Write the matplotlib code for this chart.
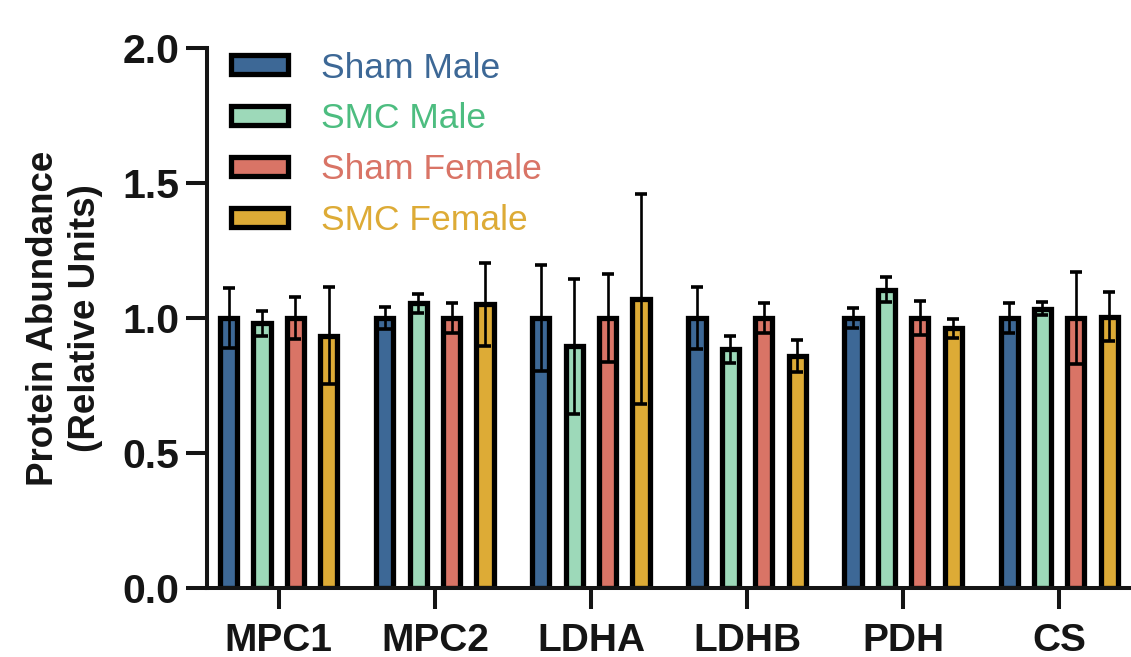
import numpy as np
import matplotlib
matplotlib.use('Agg')
import matplotlib.pyplot as plt
from matplotlib.patches import Patch

plt.rcParams['font.family'] = ['Liberation Sans', 'DejaVu Sans']

proteins = ['MPC1', 'MPC2', 'LDHA', 'LDHB', 'PDH', 'CS']
groups   = ['Sham Male', 'SMC Male', 'Sham Female', 'SMC Female']

# means and SEM
sham_male     = [1.00, 1.00, 1.00, 1.00, 1.00, 1.00]
sham_male_err = [0.11, 0.042, 0.196, 0.115, 0.036, 0.057]
smc_male      = [0.98, 1.055, 0.895, 0.885, 1.105, 1.035]
smc_male_err  = [0.045, 0.035, 0.25, 0.05, 0.047, 0.025]
sham_fem      = [1.00, 1.00, 1.00, 1.00, 1.00, 1.00]
sham_fem_err  = [0.077, 0.054, 0.162, 0.054, 0.062, 0.172]
smc_fem       = [0.935, 1.05, 1.07, 0.86, 0.962, 1.005]
smc_fem_err   = [0.18, 0.155, 0.39, 0.06, 0.035, 0.09]

means  = [sham_male, smc_male, sham_fem, smc_fem]
errs   = [sham_male_err, smc_male_err, sham_fem_err, smc_fem_err]
fills  = ['#3D6896', '#9DD9B9', '#D97466', '#DDAB36']
tcols  = ['#3D6896', '#4DBD80', '#D97466', '#DDAB36']

fig = plt.figure(figsize=(11.31, 6.57), dpi=100)
ax = fig.add_axes([0.183, 0.105, 0.817, 0.822])

x = np.arange(len(proteins))
step = 0.214
width = 0.11
for i in range(4):
    xi = x + (i - 1.5) * step
    ax.bar(xi, means[i], width, color=fills[i], edgecolor='black',
           linewidth=3.8, zorder=2)
    ax.errorbar(xi, means[i], yerr=errs[i], fmt='none', ecolor='black',
                elinewidth=1.9, capsize=4.5, capthick=2.6, zorder=3)

ax.set_xlim(-0.46, 5.46)
ax.set_ylim(0, 2.0)
ax.set_yticks([0, 0.5, 1.0, 1.5, 2.0])
ax.set_yticklabels(['0.0', '0.5', '1.0', '1.5', '2.0'])
ax.set_xticks(x)
ax.set_xticklabels(proteins)

for s in ['top', 'right']:
    ax.spines[s].set_visible(False)
for s in ['left', 'bottom']:
    ax.spines[s].set_linewidth(2.9)
    ax.spines[s].set_color('#151515')

ax.tick_params(axis='both', length=15, width=2.9, color='#151515',
               labelsize=29.5, pad=5)
ax.tick_params(axis='x', pad=10)
for lab in ax.get_xticklabels():
    lab.set_fontweight('bold')
    lab.set_color('#151515')
    lab.set_fontsize(28)
for lab in ax.get_yticklabels():
    lab.set_fontweight('bold')
    lab.set_color('#151515')

ax.set_ylabel('Protein Abundance\n(Relative Units)', fontsize=26.5,
              fontweight='bold', color='#151515', linespacing=1.28)
ax.yaxis.set_label_coords(-0.112, 0.5)

handles = [Patch(facecolor=fills[i], edgecolor='black', linewidth=3.8)
           for i in range(4)]
leg = fig.legend(handles, groups, loc='upper left',
                 bbox_to_anchor=(0.176, 0.97), frameon=False, fontsize=25.5,
                 handlelength=1.6, handleheight=0.45, handletextpad=0.95,
                 labelspacing=0.5, labelcolor=tcols)

fig.savefig('out.png', dpi=100)
